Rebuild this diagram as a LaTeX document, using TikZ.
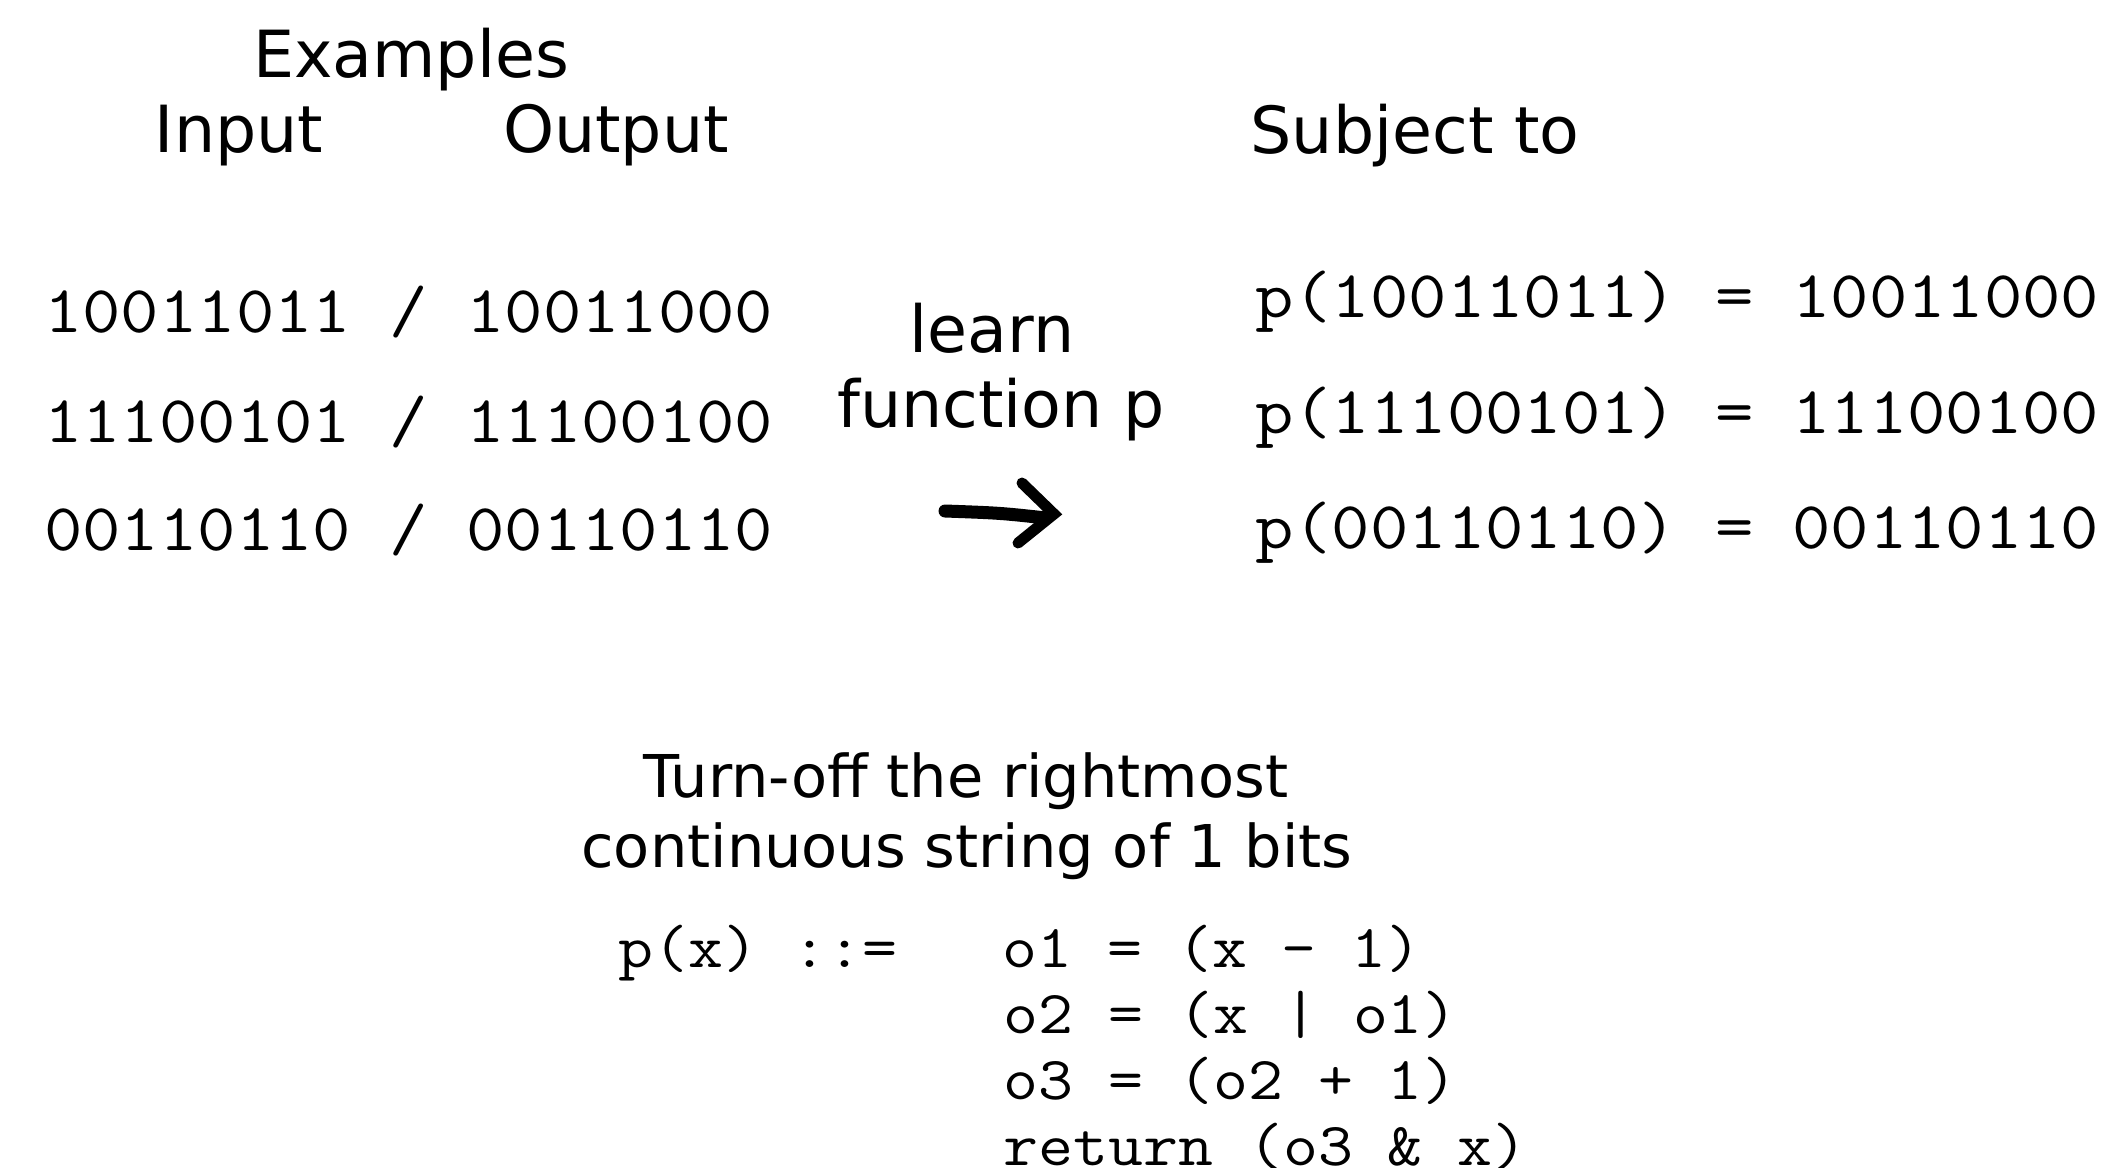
\documentclass[tikz,border=0pt]{standalone}
\usepackage{graphicx}
\usepackage{fontspec}
\setmainfont{DejaVu Sans}
% typewriter glyphs, widened a little to the column pitch
\newcommand{\pitched}[1]{\scalebox{1.112}[1]{#1}}
\begin{document}
\begin{tikzpicture}[x=1pt,y=-1pt,
  head/.style={font=\fontsize{65}{78}\selectfont, inner sep=0pt, anchor=base},
  caption/.style={font=\fontsize{59}{70}\selectfont, inner sep=0pt, anchor=base},
  bits/.style={font=\ttfamily\fontsize{67}{76}\selectfont, inner sep=0pt, anchor=base west},
  code/.style={font=\ttfamily\fontsize{61}{66}\selectfont, inner sep=0pt, anchor=base west},
  stroke/.style={line width=13pt, line cap=round, line join=miter}]
  % canvas
  \fill[white] (0,0) rectangle (2111,1167);
  \useasboundingbox (0,0) rectangle (2111,1167);

  % column headings
  \node[head] (examples) at (411,77) {Examples};
  \node[head] (input)    at (239,152) {Input};
  \node[head] (output)   at (616,152) {Output};
  \node[head] (subject)  at (1415,153) {Subject to};

  % example pairs
  \node[bits] (ex1) at (44,332) {\pitched{10011011~/~10011000}};
  \node[bits] (ex2) at (44,442) {\pitched{11100101~/~11100100}};
  \node[bits] (ex3) at (44,550) {\pitched{00110110~/~00110110}};

  % constraints
  \node[bits] (c1) at (1255,317) {\pitched{p(10011011)~=~10011000}};
  \node[bits] (c2) at (1255,433) {\pitched{p(11100101)~=~11100100}};
  \node[bits] (c3) at (1255,548) {\pitched{p(00110110)~=~00110110}};

  % learning step
  \node[head] (learn) at (992,352) {learn};
  \node[head] (func)  at (1001,427) {function p};
  \coordinate (tail) at (945,511);
  \coordinate (mid)  at (1000,513);
  \coordinate (shaftend) at (1046,518);
  \coordinate (armtop) at (1022,483);
  \coordinate (tip) at (1054,514);
  \coordinate (armbot) at (1018,543);
  \draw[stroke] (tail) .. controls (mid) .. (shaftend);
  \draw[stroke, line width=11pt] (armtop) -- (tip) -- (armbot);

  % program description
  \node[caption] (desc1) at (966,797) {Turn-off the rightmost};
  \node[caption] (desc2) at (967,867) {continuous string of 1 bits};

  % synthesized program
  \node[code] (def)  at (618,967)  {\pitched{p(x)~::=~~~o1~=~(x~-~1)}};
  \node[code] (l2)   at (1003.5,1033) {\pitched{o2~=~(x~|~o1)}};
  \node[code] (l3)   at (1003.5,1099) {\pitched{o3~=~(o2~+~1)}};
  \node[code] (ret)  at (1003.5,1165) {\pitched{return~(o3~\&~x)}};
\end{tikzpicture}
\end{document}
